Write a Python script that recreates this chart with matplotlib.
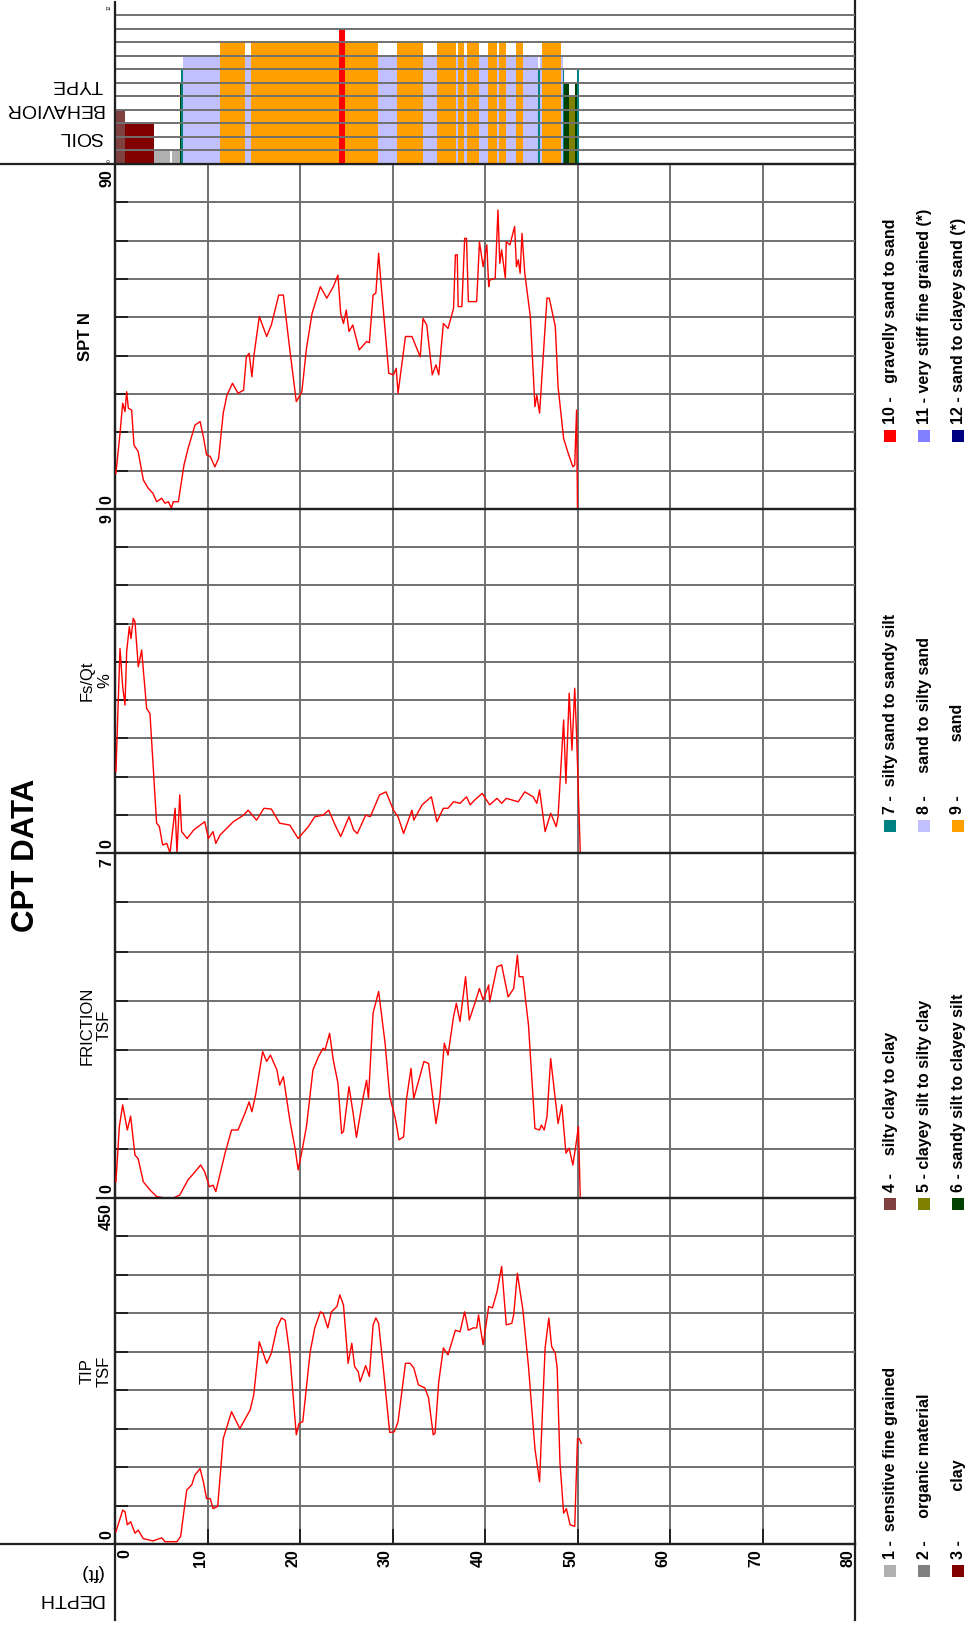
import matplotlib
matplotlib.use("Agg")
import matplotlib.pyplot as plt

plt.rcParams["font.family"] = ["Liberation Sans", "DejaVu Sans"]

W, H = 974, 1625
X0, X1 = 115, 855          # pixel span of depth 0 .. 80 ft
DMAX = 80

# soil behaviour type layers (ft) and zone number
soil_top = [0.0, 1.1, 4.2, 6.2, 7.0, 7.1, 7.4, 11.4, 14.05, 14.7, 24.2, 24.9, 28.4, 30.5,
            33.3, 34.8, 36.9, 37.1, 37.7, 38.1, 39.4, 40.3, 41.3, 41.5, 42.3, 43.3, 44.1,
            45.7, 45.9, 46.2, 48.2, 48.4, 48.5, 49.1, 49.7, 49.9]
soil_bot = [1.1, 4.2, 5.9, 7.0, 7.1, 7.4, 11.4, 14.05, 14.7, 24.2, 24.9, 28.4, 30.5, 33.3,
            34.8, 36.9, 37.1, 37.7, 38.1, 39.4, 40.3, 41.3, 41.5, 42.3, 43.3, 44.1, 45.7,
            45.9, 46.2, 48.2, 48.4, 48.5, 49.1, 49.7, 49.9, 50.15]
soil_zone = [4, 3, 1, 1, 6, 7, 8, 9, 8, 9, 10, 9, 8, 9,
             8, 9, 8, 9, 8, 9, 8, 9, 8, 9, 8, 9, 8,
             7, 8, 9, 8, 7, 6, 5, 6, 7]

zone_colors = ["#b0b0b0", "#808080", "#800000", "#804040", "#808000", "#004000",
               "#008080", "#c0c0ff", "#ffa000", "#ff0000", "#8080ff", "#000080"]
zone_labels = ["1 -  sensitive fine grained", "2 -     organic material", "3 -           clay",
               "4 -    silty clay to clay", "5 - clayey silt to silty clay",
               "6 - sandy silt to clayey silt", "7 -  silty sand to sandy silt",
               "8 -     sand to silty sand", "9 -            sand",
               "10 -   gravelly sand to sand", "11 - very stiff fine grained (*)",
               "12 - sand to clayey sand (*)"]

spt_depth = [0.1, 0.54, 0.83, 1.08, 1.26, 1.44, 1.8, 2.05, 2.5, 3.06, 3.6, 4.1, 4.5, 5.05, 5.4,
             5.77, 6.1, 6.3, 6.85, 7.46, 7.9, 8.65, 9.2, 9.55, 9.9, 10.3, 10.8, 11.2, 11.7,
             12.1, 12.7, 13.3, 13.9, 14.2, 14.5, 14.8, 15.0, 15.6, 16.4, 16.9, 17.7, 18.2,
             18.9, 19.6, 20.2, 20.7, 21.3, 22.2, 22.9, 23.6, 24.1, 24.4, 24.7, 25.0, 25.3,
             25.7, 26.4, 27.2, 27.5, 27.9, 28.2, 28.5, 28.7, 29.6, 30.1, 30.4, 30.6, 31.4,
             32.1, 33.0, 33.3, 33.7, 34.3, 34.7, 35.0, 35.5, 36.0, 36.6, 36.8, 37.0, 37.1,
             37.5, 37.8, 38.0, 38.2, 39.1, 39.4, 39.8, 40.2, 40.4, 40.5, 41.1, 41.4, 41.6,
             41.8, 42.2, 42.3, 42.7, 43.2, 43.4, 43.6, 43.8, 44.0, 44.3, 44.9, 45.4, 45.6,
             45.9, 46.7, 46.95, 47.6, 47.9, 48.5, 49.0, 49.5, 49.7, 49.9, 50.0]
spt_n = [9.3, 19.7, 27.6, 25.4, 30.6, 26.3, 25.8, 16.7, 15.0, 7.6, 5.4, 4.1, 1.9, 2.8, 1.5,
         1.9, 0.2, 1.9, 1.9, 11.5, 15.8, 21.9, 22.8, 18.9, 14.1, 13.7, 11.0, 13.2, 25.0,
         29.7, 32.8, 30.2, 31.0, 39.7, 40.6, 34.5, 39.7, 50.2, 45.0, 48.0, 55.8, 55.8,
         41.5, 28.0, 30.6, 41.9, 51.0, 58.0, 55.0, 58.0, 61.0, 51.0, 48.4, 51.9, 46.3,
         48.0, 41.5, 43.7, 43.4, 55.8, 56.3, 66.7, 60.6, 35.4, 35.0, 36.7, 30.2, 45.0,
         45.0, 39.7, 49.7, 48.0, 35.0, 37.6, 35.0, 48.4, 47.1, 52.3, 66.3, 66.3, 52.8,
         52.8, 70.6, 70.6, 54.1, 54.1, 69.7, 63.2, 68.9, 58.0, 59.7, 60.2, 78.0, 64.1,
         67.6, 60.2, 69.7, 68.9, 73.7, 63.2, 65.0, 61.5, 71.9, 61.5, 50.2, 26.7, 29.7,
         25.0, 55.0, 55.0, 47.6, 31.9, 18.4, 14.5, 11.0, 11.5, 25.8, 0.0]

ratio_depth = [0.1, 0.54, 0.83, 1.08, 1.26, 1.55, 1.73, 1.98, 2.16, 2.52, 2.88, 3.42, 3.78,
               4.5, 4.8, 5.15, 5.6, 5.95, 6.5, 6.7, 7.0, 7.2, 7.8, 8.5, 9.7, 10.1, 10.6,
               10.9, 11.35, 12.8, 13.9, 14.4, 15.3, 16.1, 16.9, 17.8, 18.9, 19.8, 20.9,
               21.6, 22.5, 23.1, 23.8, 24.4, 25.3, 25.8, 26.2, 27.1, 27.6, 28.6, 29.3,
               30.1, 30.6, 31.2, 32.1, 32.3, 33.2, 34.2, 34.8, 35.5, 36.0, 36.6, 37.3,
               38.0, 38.4, 38.9, 39.7, 40.5, 41.3, 41.8, 42.3, 43.6, 44.3, 45.2, 45.6,
               45.9, 46.5, 47.1, 47.7, 47.9, 48.5, 48.75, 49.1, 49.4, 49.7, 49.9, 50.3]
ratio_pct = [2.13, 5.35, 4.35, 3.87, 5.27, 5.92, 5.61, 6.14, 6.05, 4.87, 5.31, 3.78, 3.65,
             0.78, 0.69, 0.21, 0.25, 0.0, 1.17, 0.0, 1.52, 0.56, 0.38, 0.6, 0.82, 0.38,
             0.56, 0.25, 0.47, 0.82, 0.99, 1.12, 0.86, 1.17, 1.15, 0.78, 0.73, 0.38, 0.69,
             0.95, 0.99, 1.12, 0.73, 0.43, 0.95, 0.6, 0.51, 0.99, 0.95, 1.52, 1.6, 1.12,
             0.95, 0.51, 1.12, 0.86, 1.26, 1.47, 0.82, 1.17, 1.17, 1.34, 1.3, 1.47, 1.26,
             1.39, 1.56, 1.26, 1.43, 1.3, 1.43, 1.34, 1.6, 1.47, 1.3, 1.65, 0.56, 1.04,
             0.69, 0.95, 3.48, 1.82, 4.18, 2.69, 4.31, 3.09, 0.0]

fric_depth = [0.1, 0.47, 0.83, 1.33, 1.69, 2.16, 2.5, 3.06, 3.8, 4.5, 5.4, 6.3, 7.0, 7.9,
              8.65, 9.26, 9.7, 10.2, 10.6, 10.9, 11.9, 12.6, 13.3, 14.05, 14.5, 14.8, 15.2,
              15.96, 16.4, 16.8, 17.5, 17.8, 18.2, 18.9, 19.5, 19.8, 20.2, 20.7, 21.4, 22.0,
              22.5, 22.7, 23.2, 23.6, 24.1, 24.5, 24.7, 25.3, 25.8, 26.1, 26.8, 27.2, 27.4,
              27.9, 28.5, 29.2, 29.7, 30.3, 30.7, 31.2, 31.5, 32.0, 32.3, 32.9, 33.4, 33.9,
              34.7, 35.1, 35.6, 36.0, 36.6, 36.9, 37.3, 37.9, 38.3, 38.9, 39.4, 39.8, 40.4,
              40.5, 41.3, 41.8, 42.5, 43.1, 43.5, 43.7, 44.1, 44.7, 45.4, 45.9, 46.1, 46.4,
              46.7, 47.1, 47.9, 48.3, 48.75, 49.1, 49.5, 49.8, 50.1, 50.3]
fric_tsf = [0.33, 1.45, 1.89, 1.38, 1.66, 0.87, 0.8, 0.33, 0.16, 0.03, 0.0, 0.0, 0.06, 0.37,
            0.53, 0.67, 0.53, 0.23, 0.26, 0.13, 0.91, 1.38, 1.38, 1.72, 1.95, 1.75, 2.09,
            2.97, 2.77, 2.9, 2.6, 2.29, 2.46, 1.58, 0.97, 0.57, 0.94, 1.45, 2.6, 2.87,
            3.04, 3.0, 3.34, 2.8, 2.33, 1.31, 1.35, 2.26, 1.65, 1.23, 2.02, 2.39, 2.02,
            3.75, 4.19, 3.14, 2.06, 1.62, 1.18, 1.24, 1.99, 2.63, 2.02, 2.43, 2.77, 2.73,
            1.51, 1.99, 3.14, 2.9, 3.68, 3.95, 3.58, 4.49, 3.61, 3.95, 4.25, 4.02, 4.32,
            3.98, 4.69, 4.73, 4.08, 4.25, 4.93, 4.49, 4.49, 3.51, 1.41, 1.38, 1.48, 1.38,
            1.65, 2.83, 1.51, 1.89, 0.91, 1.01, 0.67, 1.04, 1.45, 0.0]

tip_depth = [0.1, 0.83, 1.08, 1.33, 1.69, 2.16, 2.5, 3.06, 4.1, 5.05, 5.4, 6.7, 7.1, 7.75,
             8.3, 8.65, 9.2, 9.55, 9.9, 10.3, 10.6, 11.1, 11.7, 12.6, 13.5, 13.9, 14.6, 15.0,
             15.6, 16.4, 16.9, 17.5, 18.0, 18.4, 18.9, 19.6, 19.9, 20.3, 21.1, 21.6, 22.2,
             22.5, 23.0, 23.4, 24.0, 24.3, 24.7, 25.2, 25.6, 25.9, 26.3, 26.5, 27.1, 27.5,
             27.9, 28.2, 28.5, 29.0, 29.7, 30.2, 30.6, 31.4, 31.9, 32.3, 32.8, 33.5, 33.9,
             34.4, 34.6, 35.0, 35.5, 36.0, 36.8, 37.3, 37.8, 38.2, 38.7, 39.1, 39.3, 39.5,
             39.8, 40.4, 40.8, 41.3, 41.8, 42.3, 42.9, 43.1, 43.5, 44.1, 44.7, 45.4, 45.9,
             46.3, 46.5, 46.9, 47.2, 47.6, 47.8, 48.1, 48.5, 48.8, 49.2, 49.7, 50.0, 50.2,
             50.4]
tip_tsf = [16, 44, 42, 25, 29, 14, 18, 7, 4, 8, 3, 3, 10, 70, 77, 90, 98, 81, 59, 59, 46, 49,
           137, 172, 150, 159, 174, 194, 263, 235, 248, 281, 294, 291, 246, 142, 157, 159,
           250, 281, 302, 300, 281, 302, 309, 324, 311, 235, 261, 231, 224, 211, 232, 218,
           285, 294, 287, 229, 145, 146, 159, 235, 235, 229, 207, 203, 190, 142, 144, 211,
           255, 246, 278, 276, 302, 278, 281, 281, 298, 281, 259, 309, 307, 328, 361, 285,
           287, 298, 352, 304, 231, 124, 81, 198, 255, 294, 257, 248, 229, 107, 40, 46, 25,
           23, 137, 137, 131]

# track layout: top px, bottom px, axis max, grid step, label, series
tracks = [
    (164, 509, 90, 10, "SPT N", spt_depth, spt_n),
    (509, 853, 9, 1, "Fs/Qt\n%", ratio_depth, ratio_pct),
    (853, 1198, 7, 1, "FRICTION\nTSF", fric_depth, fric_tsf),
    (1198, 1544, 450, 50, "TIP\nTSF", tip_depth, tip_tsf),
]

GRID = "#707070"
EDGE = "#202020"


def rect(top, bottom):
    return [X0 / W, 1 - bottom / H, (X1 - X0) / W, (bottom - top) / H]


def flipped(lines, ys):
    # upside-down captions, one text per line, right edges lined up
    for line, y in zip(lines, ys):
        frame.text(103, y, line, rotation=180, rotation_mode="anchor", fontsize=14,
                   ha="left", va="center")


fig = plt.figure(figsize=(W / 100, H / 100), dpi=100)
frame = fig.add_axes([0, 0, 1, 1])
frame.set_xlim(0, W)
frame.set_ylim(H, 0)
frame.axis("off")

# soil behaviour type column
soil_ax = fig.add_axes(rect(2, 164))
soil_ax.set_facecolor("none")
soil_ax.set_xlim(0, DMAX)
soil_ax.set_ylim(0, 12)
for t, b, z in zip(soil_top, soil_bot, soil_zone):
    soil_ax.bar(t, z, width=b - t, align="edge", color=zone_colors[z - 1], linewidth=0, zorder=1)
for lvl in range(1, 12):
    soil_ax.axhline(lvl, color=GRID, lw=1.4, zorder=2)
soil_ax.set_xticks([])
soil_ax.set_yticks([])
for side in ["top", "right", "bottom"]:
    soil_ax.spines[side].set_visible(False)
soil_ax.spines["left"].set_color(EDGE)
soil_ax.spines["left"].set_linewidth(1.5)
frame.text(112, 4, "12", rotation=90, fontsize=3.5, ha="right", va="top")
frame.text(112, 162, "0", rotation=90, fontsize=3.5, ha="right", va="bottom")

for top, bottom, vmax, step, label, depth, vals in tracks:
    ax = fig.add_axes(rect(top, bottom))
    ax.set_facecolor("none")
    ax.set_xlim(0, DMAX)
    ax.set_ylim(0, vmax)
    for d in range(10, DMAX, 10):
        ax.axvline(d, color=GRID, lw=1.4, zorder=1)
    for v in range(step, vmax, step):
        ax.axhline(v, color=GRID, lw=1.4, zorder=1)
    ax.plot(depth, vals, color="#ff0000", lw=1.0, zorder=3)
    ax.set_xticks(range(10, DMAX, 10) if top == 1198 else [])
    ax.set_yticks(range(step, vmax, step))
    ax.tick_params(axis="y", direction="in", length=9, width=1.4, color=EDGE, labelleft=False)
    ax.tick_params(axis="x", direction="in", length=11, width=1.4, color=EDGE, labelbottom=False)
    for side in ax.spines.values():
        side.set_color(EDGE)
        side.set_linewidth(1.6)
    ax.spines["right"].set_visible(False)

    mid = (top + bottom) / 2
    weight = "bold" if label == "SPT N" else "normal"
    frame.text(96 if "\n" in label else 86, mid, label, rotation=90, fontsize=12,
               fontweight=weight, ha="center", va="center", multialignment="center",
               linespacing=1.15)
    frame.text(114, top + 5, str(vmax), rotation=90, fontsize=11.5, fontweight="bold",
               ha="right", va="top")
    frame.text(114, bottom - 5, "0", rotation=90, fontsize=11.5, fontweight="bold",
               ha="right", va="bottom")
    if top != 164:
        frame.plot([97, X0], [top, top], color=EDGE, lw=1.6)

# outer frame lines
frame.plot([0, X1], [164, 164], color=EDGE, lw=1.6)
frame.plot([0, X1], [1544, 1544], color=EDGE, lw=1.6)
frame.plot([X0, X0], [3, 1620], color=EDGE, lw=1.6)
frame.plot([X1, X1], [0, 1620], color=EDGE, lw=1.6)

# depth scale
for d in range(0, DMAX + 1, 10):
    x = X0 + d * (X1 - X0) / DMAX
    frame.text(x + 10 if d == 0 else x - 7, 1549, str(d), rotation=90, fontsize=11.5,
               fontweight="bold", ha="center", va="top")

flipped(["DEPTH", "(ft)"], [1599, 1573])
flipped(["SOIL", "BEHAVIOR", "TYPE"], [136, 109, 84])
frame.text(26, 855, "CPT DATA", rotation=90, fontsize=22.5, fontweight="bold",
           ha="center", va="center")

# zone legend, three entries per group
group_y = [1571, 1204, 826, 436]
col_x = [890, 924, 958]
for i, (color, text) in enumerate(zip(zone_colors, zone_labels)):
    gy = group_y[i // 3]
    cx = col_x[i % 3]
    frame.add_patch(plt.Rectangle((cx - 6, gy - 6), 12, 12, color=color, lw=0))
    frame.text(cx, gy - 12, text, rotation=90, fontsize=11.5, fontweight="bold",
               ha="center", va="bottom")

fig.savefig("out.png", dpi=100)
